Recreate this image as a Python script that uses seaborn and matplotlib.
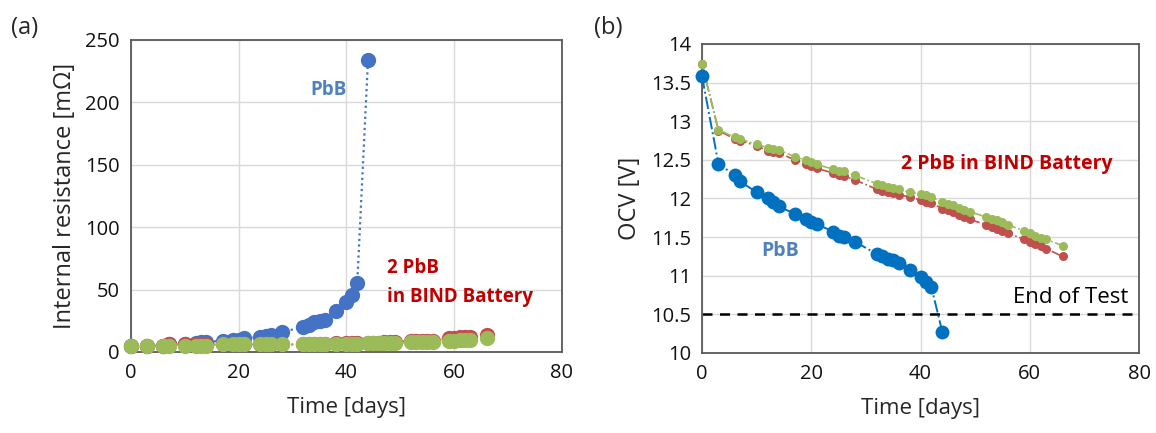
import matplotlib
matplotlib.use("Agg")
import matplotlib.pyplot as plt
import seaborn as sns
import pandas as pd

# ---------------- data ----------------
days_pbb = [0, 3, 6, 7, 10, 12, 13, 14, 17, 19, 20, 21, 24, 25, 26, 28,
            32, 33, 34, 35, 36, 38, 40, 41, 42, 44]
res_pbb = [5, 5, 5, 6, 6, 7, 8, 8, 9, 10, 10, 11, 12, 13, 14, 16,
           20, 22, 24, 25, 26, 33, 40, 46, 55, 234]
ocv_pbb = [13.58, 12.45, 12.30, 12.22, 12.08, 12.00, 11.95, 11.90, 11.80,
           11.74, 11.70, 11.67, 11.57, 11.52, 11.50, 11.44,
           11.28, 11.25, 11.22, 11.20, 11.17, 11.08, 10.98, 10.92, 10.85, 10.27]

days_bind = [0, 3, 6, 7, 10, 12, 13, 14, 17, 19, 20, 21, 24, 25, 26, 28,
             32, 33, 34, 35, 36, 38, 40, 41, 42, 44, 45, 46, 47, 48, 49,
             52, 53, 54, 55, 56, 59, 60, 61, 62, 63, 66]
res_green = [5, 5, 5, 5, 5, 5, 5, 5, 6, 6, 6, 6, 6, 6, 6, 6,
             6, 6, 6, 6, 6, 6, 6, 6, 6, 7, 7, 7, 7, 7, 7,
             8, 8, 8, 8, 8, 9, 9, 10, 10, 10, 11]
res_red = [5, 5, 5, 6, 6, 6, 6, 6, 6, 6, 6, 6, 6, 6, 6, 6,
           6, 6, 6, 6, 6, 7, 7, 7, 7, 7, 7, 7, 8, 8, 8,
           9, 9, 9, 9, 9, 11, 11, 12, 12, 12, 14]
ocv_green = [13.74, 12.89, 12.79, 12.77, 12.70, 12.66, 12.64, 12.63, 12.54,
             12.50, 12.47, 12.44, 12.38, 12.36, 12.35, 12.30,
             12.19, 12.17, 12.15, 12.13, 12.12, 12.08, 12.06, 12.04, 12.02,
             11.95, 11.93, 11.91, 11.88, 11.85, 11.83,
             11.76, 11.74, 11.72, 11.69, 11.66,
             11.58, 11.55, 11.52, 11.49, 11.47, 11.39]
ocv_red = [13.74, 12.88, 12.77, 12.75, 12.68, 12.62, 12.60, 12.59, 12.50,
           12.45, 12.42, 12.39, 12.33, 12.31, 12.29, 12.24,
           12.12, 12.10, 12.08, 12.07, 12.05, 12.02, 11.98, 11.96, 11.94,
           11.87, 11.85, 11.82, 11.79, 11.76, 11.73,
           11.66, 11.63, 11.60, 11.58, 11.55,
           11.47, 11.44, 11.41, 11.38, 11.35, 11.25]

end_of_test = 10.5

BLUE_A = "#4472C4"
BLUE_B = "#0070C0"
RED = "#C0504D"
GREEN = "#9BBB59"
TXT_RED = "#C00000"
TXT_BLUE = "#4F81BD"

sns.set_theme(style="whitegrid")
plt.rcParams["font.family"] = ["Open Sans", "DejaVu Sans"]

fig = plt.figure(figsize=(11.56, 4.33), dpi=100)
axa = fig.add_axes([0.1133, 0.1871, 0.3728, 0.7206])
axb = fig.add_axes([0.6073, 0.1848, 0.3780, 0.7136])

def series(ax, x, y, color, ms, ls, lw, z):
    df = pd.DataFrame({"x": x, "y": y})
    sns.lineplot(data=df, x="x", y="y", ax=ax, color=color, marker="o",
                 markersize=ms, markeredgewidth=0, linestyle=ls,
                 linewidth=lw, sort=False, estimator=None, zorder=z,
                 clip_on=False)

# ---- panel (a)
series(axa, days_pbb, res_pbb, BLUE_A, 11, (0, (1, 1.5)), 1.6, 3)
series(axa, days_bind, res_red, RED, 11, (0, (1, 1.5)), 1.4, 4)
series(axa, days_bind, res_green, GREEN, 11, (0, (1, 1.5)), 1.4, 5)

axa.set_xlim(0, 80)
axa.set_ylim(0, 250)
axa.set_xticks([0, 20, 40, 60, 80])
axa.set_yticks([0, 50, 100, 150, 200, 250])
axa.set_xlabel("Time [days]", fontsize=16, labelpad=10)
axa.set_ylabel("Internal resistance [mΩ]", fontsize=17, labelpad=6)
axa.text(36.6, 210, "PbB", color=TXT_BLUE, fontsize=13.5, fontweight="bold",
         ha="center", va="center")
axa.text(47.6, 67, "2 PbB", color=TXT_RED, fontsize=13.5, fontweight="bold",
         ha="left", va="center")
axa.text(47.6, 44, "in BIND Battery", color=TXT_RED, fontsize=13.5,
         fontweight="bold", ha="left", va="center")

# ---- panel (b)
series(axb, days_bind, ocv_red, RED, 6.5, "-.", 1.2, 3)
series(axb, days_bind, ocv_green, GREEN, 6.5, "-.", 1.2, 4)
series(axb, days_pbb, ocv_pbb, BLUE_B, 10, "-.", 1.4, 5)
axb.axhline(end_of_test, color="black", linestyle=(0, (4, 3)), linewidth=1.8,
            zorder=2)

axb.set_xlim(0, 80)
axb.set_ylim(10, 14)
axb.set_xticks([0, 20, 40, 60, 80])
axb.set_yticks([10, 10.5, 11, 11.5, 12, 12.5, 13, 13.5, 14])
axb.set_yticklabels(["10", "10.5", "11", "11.5", "12", "12.5", "13", "13.5", "14"])
axb.set_xlabel("Time [days]", fontsize=16, labelpad=10)
axb.set_ylabel("OCV [V]", fontsize=17, labelpad=6)
axb.text(36.4, 12.45, "2 PbB in BIND Battery", color=TXT_RED, fontsize=14,
         fontweight="bold", ha="left", va="center")
axb.text(14.3, 11.32, "PbB", color=TXT_BLUE, fontsize=14, fontweight="bold",
         ha="center", va="center")
axb.text(78.0, 10.72, "End of Test", color="black", fontsize=16,
         ha="right", va="center")

for ax in (axa, axb):
    ax.grid(True, color="#D9D9D9", linewidth=1)
    ax.tick_params(axis="both", labelsize=14.5, length=0, pad=8, colors="#111111")
    for s in ax.spines.values():
        s.set_visible(True)
        s.set_color("#595959")
        s.set_linewidth(1.3)
    ax.set_axisbelow(True)

fig.text(25 / 1156, 1 - 28 / 433, "(a)", fontsize=17, ha="center", va="center")
fig.text(608 / 1156, 1 - 28 / 433, "(b)", fontsize=17, ha="center", va="center")

fig.savefig("out.png", dpi=100, facecolor="white")
